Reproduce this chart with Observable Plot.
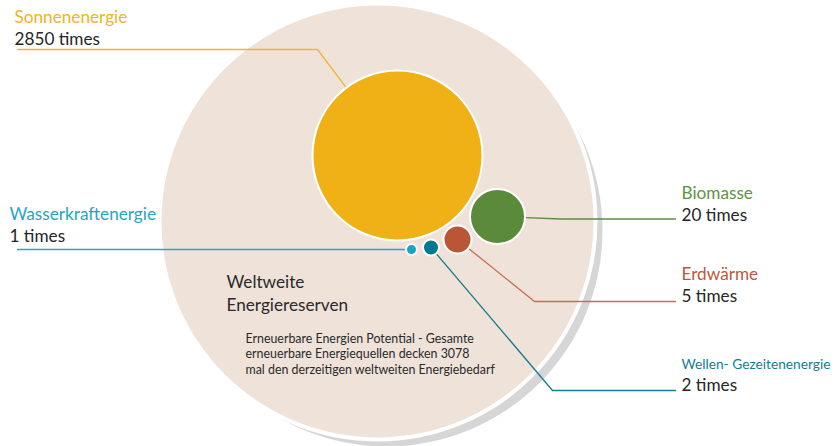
<!DOCTYPE html>
<html>
<head>
<meta charset="utf-8">
<script src="https://cdn.jsdelivr.net/npm/d3@7"></script>
<script src="https://cdn.jsdelivr.net/npm/@observablehq/plot@0.6"></script>
<style>
  html, body { margin: 0; padding: 0; background: #fff; }
  #chart svg { display: block; }
</style>
</head>
<body>
<div id="chart"></div>
<script>
// ---- data ----
const categories = ["Sonnenenergie", "Biomasse", "Erdwärme", "Wellen- Gezeitenenergie", "Wasserkraftenergie"];
const values = [2850, 20, 5, 2, 1];
const totalValue = 3078;
const totalTitle = "Weltweite\nEnergiereserven";
const totalNote = "Erneuerbare Energien Potential - Gesamte\nerneuerbare Energiequellen decken 3078\nmal den derzeitigen weltweiten Energiebedarf";

// ---- styles ----
const fills = ["#EFB116", "#5B8A3A", "#B85636", "#00788F", "#1AA4C4"];
const labelColors = ["#F1B22A", "#5E9441", "#C0573A", "#157D90", "#23A6C2"];
const lineColors = ["#F1B42C", "#5E8C40", "#C76E4F", "#147D90", "#27A8C4"];
const labelSizes = [17.2, 17.2, 17.2, 14, 17.2];

// ---- layout (chart units) ----
const centers = [[397, 155], [497, 216], [457, 239], [430.5, 247], [411, 249]];
const elbows = [[317, 49], [560, 218.5], [534, 301], [552, 390], [390, 249]];
const ends = [[17, 49], [675, 218.5], [675, 301], [675, 390], [17, 249]];
const labelPos = [[14, 22], [681, 198], [681, 279], [681, 368], [9, 219]];
const totalCenter = [377, 221];

const rScale = {type: "linear", domain: [1, 2, 5, 20, 2850, 3078], range: [5.5, 8, 14, 27.5, 85, 216]};
const rFn = d3.scaleLinear(rScale.domain, rScale.range);

const bubbles = categories.map((c, i) => ({
  name: c, value: values[i], x: centers[i][0], y: centers[i][1], fill: fills[i]
}));

const leaders = [];
categories.forEach((c, i) => {
  const [cx, cy] = centers[i];
  const [ex, ey] = elbows[i];
  const r = rFn(values[i]) + 1;
  const dx = ex - cx, dy = ey - cy, len = Math.hypot(dx, dy);
  const pts = [[cx + dx / len * r, cy + dy / len * r], elbows[i], ends[i]];
  pts.forEach(p => leaders.push({name: c, x: p[0], y: p[1], color: lineColors[i]}));
});

const labels = categories.map((c, i) => ({
  name: c, times: `${values[i]} times`, x: labelPos[i][0], y: labelPos[i][1], color: labelColors[i], size: labelSizes[i]
}));

const total = [{value: totalValue, x: totalCenter[0], y: totalCenter[1]}];

const font = "Lato, 'Open Sans', sans-serif";

const chart = Plot.plot({
  width: 835,
  height: 446,
  margin: 0,
  x: {domain: [0, 835], range: [0, 835], axis: null},
  y: {domain: [0, 446], range: [0, 446], axis: null},
  r: rScale,
  color: {type: "identity"},
  style: {fontFamily: font, background: "white"},
  marks: [
    Plot.dot(total, {x: "x", y: "y", r: "value", fill: "#D6D6D6", dx: 9, dy: 9}),
    Plot.dot(total, {x: "x", y: "y", r: "value", fill: "#EEE2D9", stroke: "white", strokeWidth: 8, paintOrder: "stroke"}),
    Plot.line(leaders, {x: "x", y: "y", z: "name", stroke: "color", strokeWidth: 1.3}),
    Plot.dot(bubbles, {x: "x", y: "y", r: "value", fill: "fill", stroke: "white", strokeWidth: 2}),
    Plot.text(labels, {x: "x", y: "y", text: "name", fill: "color", textAnchor: "start", lineAnchor: "bottom", fontSize: "size", className: "cat-label"}),
    Plot.text(labels, {x: "x", y: d => d.y + 22, text: "times", fill: "#262626", textAnchor: "start", lineAnchor: "bottom", fontSize: 17.2}),
    Plot.text(total, {x: d => d.x - 151, y: d => d.y + 89, text: () => totalTitle, fill: "#2A2A2A", textAnchor: "start", lineAnchor: "bottom", fontSize: 17.2, lineHeight: 1.28}),
    Plot.text(total, {x: d => d.x - 132, y: d => d.y + 152, text: () => totalNote, fill: "#2A2A2A", textAnchor: "start", lineAnchor: "bottom", fontSize: 12.4, lineHeight: 1.25})
  ]
});
// the long label is set condensed in the reference so that it fits the page
d3.select(chart).selectAll("g.cat-label text")
  .filter(function () { return this.textContent === "Wellen- Gezeitenenergie"; })
  .attr("textLength", 149)
  .attr("lengthAdjust", "spacingAndGlyphs");
document.getElementById("chart").appendChild(chart);
</script>
</body>
</html>
